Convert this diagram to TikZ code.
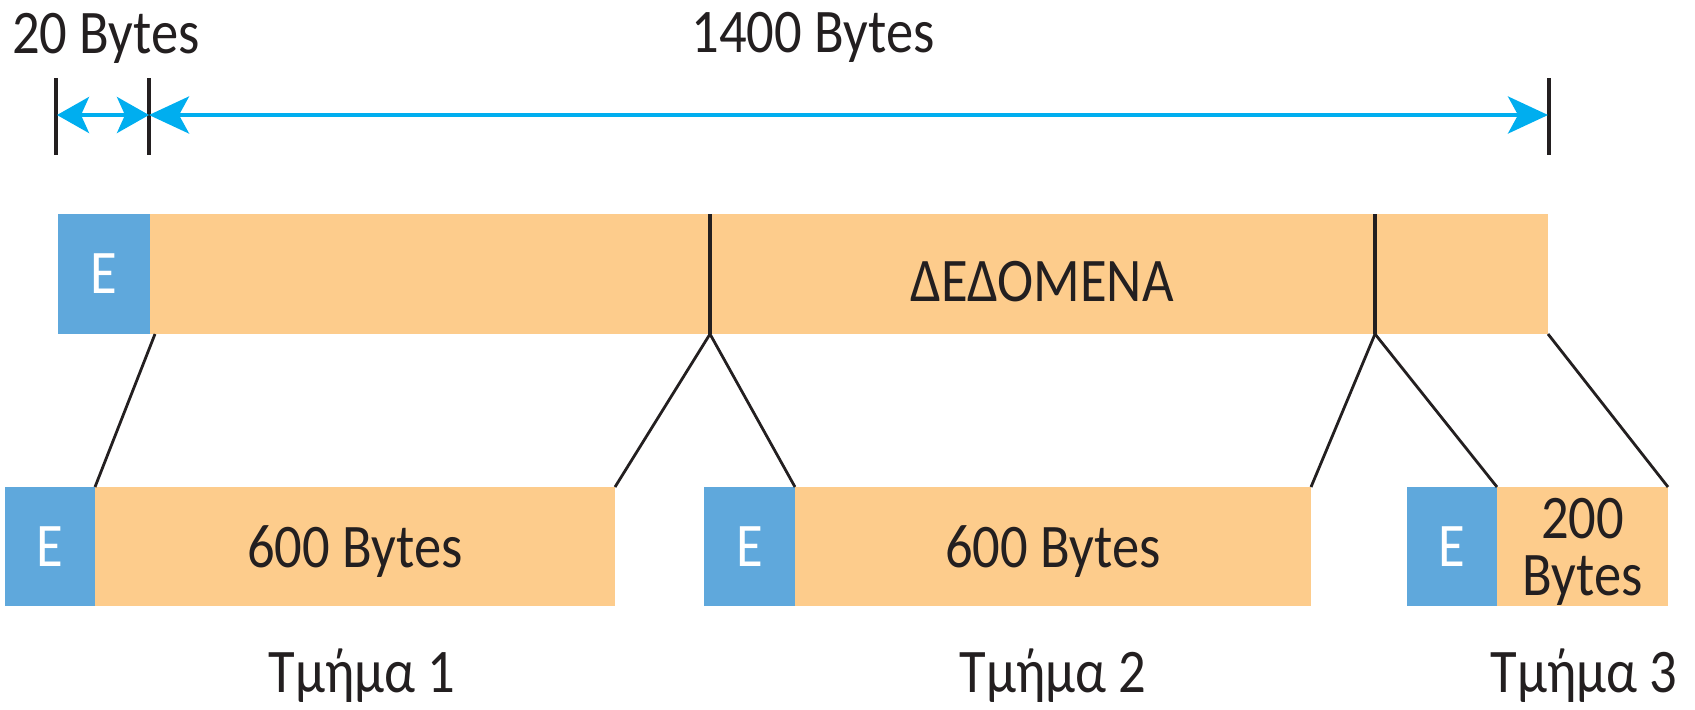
\documentclass[tikz,border=0pt]{standalone}
\usepackage{fontspec}
\setmainfont{Carlito}[FakeStretch=0.88]
\usetikzlibrary{arrows.meta}
\definecolor{hdrblue}{RGB}{95,168,220}
\definecolor{payload}{RGB}{253,204,140}
\definecolor{dimcyan}{RGB}{0,174,239}
\definecolor{ink}{RGB}{35,31,32}
\tikzset{
  bigtip/.tip={Stealth[length=20pt,width=18.5pt,inset=5pt]},
  smalltip/.tip={Stealth[length=16pt,width=18pt,inset=4pt]}}
\begin{document}
\begin{tikzpicture}[x=0.5pt,y=-0.5pt,
  font=\fontsize{31}{36}\selectfont,
  hdr/.style={fill=hdrblue, text=white, inner sep=0pt, outer sep=0pt,
              anchor=north west, text depth=0pt},
  pay/.style={fill=payload, text=ink, inner sep=0pt, outer sep=0pt,
              anchor=north west, text depth=0pt},
  lbl/.style={text=ink, inner sep=0pt, outer sep=0pt},
  cut/.style={draw=ink, line width=1.4pt},
  tickline/.style={draw=ink, line width=1.8pt},
  dim/.style={draw=dimcyan, line width=2pt}]
\useasboundingbox (0,0) rectangle (1695,709);

% original datagram
\node[hdr, minimum width=46pt, minimum height=60pt] (h0) at (58,214) {E};
\node[pay, minimum width=699pt, minimum height=60pt] (d0) at (150,214) {};
\node[lbl, text depth=0pt] (dlabel) at (1042,281) {ΔΕΔΟΜΕΝΑ};
\coordinate (c1t) at (710,214);
\coordinate (c1) at (710,334);
\coordinate (c2t) at (1375,214);
\coordinate (c2) at (1375,334);
\draw[cut, line width=1.6pt] (c1t) -- (c1);
\draw[cut, line width=1.6pt] (c2t) -- (c2);

% fragments
\node[hdr, minimum width=45pt, minimum height=59.5pt] (h1) at (5,487) {E};
\node[pay, minimum width=260pt, minimum height=59.5pt] (p1) at (95,487) {600 Bytes};
\node[hdr, minimum width=45.5pt, minimum height=59.5pt] (h2) at (704,487) {E};
\node[pay, minimum width=258pt, minimum height=59.5pt] (p2) at (795,487) {600 Bytes};
\node[hdr, minimum width=45pt, minimum height=59.5pt] (h3) at (1407,487) {E};
\node[pay, minimum width=85.5pt, minimum height=59.5pt, align=center,
      font=\fontsize{31}{28.5}\selectfont] (p3) at (1497,487) {200\\Bytes};

\node[lbl, anchor=base] (t1) at (362,692) {Τμήμα 1};
\node[lbl, anchor=base] (t2) at (1053,692) {Τμήμα 2};
\node[lbl, anchor=base] (t3) at (1584,692) {Τμήμα 3};

% fragment boundaries
\draw[cut] ([xshift=2.5pt]d0.south west) -- (p1.north west);
\draw[cut] (c1) -- (p1.north east);
\draw[cut] (c1) -- (p2.north west);
\draw[cut] (c2) -- (p2.north east);
\draw[cut] (c2) -- (p3.north west);
\draw[cut] (d0.south east) -- (p3.north east);

% size dimensions
\coordinate (k0t) at (56,78);  \coordinate (k0b) at (56,155);
\coordinate (k1t) at (149,78); \coordinate (k1b) at (149,155);
\coordinate (k2t) at (1549,78); \coordinate (k2b) at (1549,155);
\draw[tickline] (k0t) -- (k0b);
\draw[tickline] (k1t) -- (k1b);
\draw[tickline] (k2t) -- (k2b);
\coordinate (m0) at (57,115);
\coordinate (m1) at (149,115);
\coordinate (m2) at (1548,115);
\draw[dim, smalltip-smalltip] (m0) -- (m1);
\draw[dim, bigtip-bigtip] (m1) -- (m2);
\node[lbl, anchor=base] (hsize) at (106,53) {20 Bytes};
\node[lbl, anchor=base] (dsize) at (813,52) {1400 Bytes};
\end{tikzpicture}
\end{document}
